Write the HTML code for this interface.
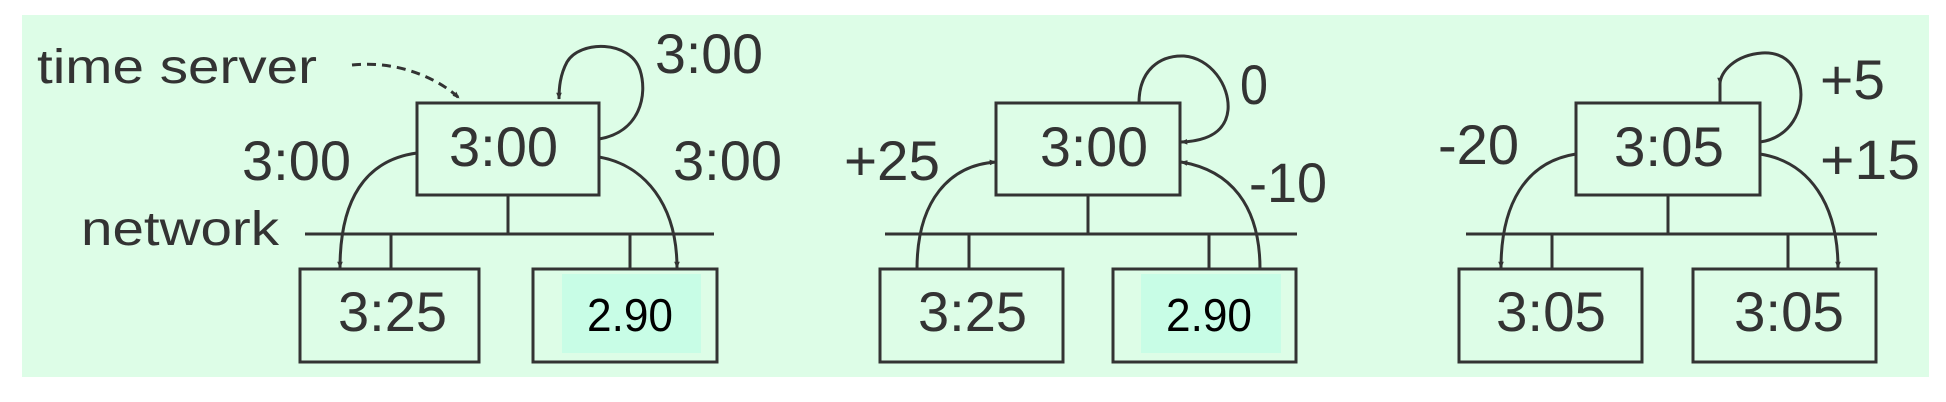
<!DOCTYPE html>
<html><head><meta charset="utf-8"><style>html,body{margin:0;padding:0;background:#fff}svg{display:block}text{font-family:"Liberation Sans",Arial,sans-serif;fill:#333}</style></head>
<body>
<svg width="1946" height="402" viewBox="0 0 1946 402">
<defs><marker id="ah" viewBox="0 0 10 10" refX="9" refY="5" markerWidth="7" markerHeight="7" orient="auto-start-reverse" markerUnits="userSpaceOnUse"><path d="M0,1 L10,5 L0,9 z" fill="#333"/></marker></defs>
<rect x="22" y="15" width="1907" height="362" fill="#ddfde7"/>
<g stroke="#333" stroke-width="3" fill="none">
<!-- panel 1 -->
<g>
<path d="M352,65 C400,60 440,80 459,98" stroke-dasharray="9,6" marker-end="url(#ah)"/>
<rect x="417" y="103" width="182" height="92"/>
<line x1="305" y1="234" x2="714" y2="234"/>
<line x1="508" y1="195" x2="508" y2="234"/>
<line x1="391" y1="234" x2="391" y2="269"/>
<line x1="630" y1="234" x2="630" y2="269"/>
<rect x="300" y="269" width="179" height="93"/>
<rect x="533" y="269" width="184" height="93"/>
<path d="M417,153 C365,160 340,200 340,268" marker-end="url(#ah)"/>
<path d="M599,157 C645,165 677,205 677,268" marker-end="url(#ah)"/>
<path d="M599,139 C640,132 648,95 640,70 C630,40 580,40 567,62 C560,75 559,88 559,99" marker-end="url(#ah)"/>
</g>
<!-- panel 2 -->
<g>
<rect x="996" y="103" width="184" height="92"/>
<line x1="885" y1="234" x2="1297" y2="234"/>
<line x1="1088" y1="195" x2="1088" y2="234"/>
<line x1="969" y1="234" x2="969" y2="269"/>
<line x1="1209" y1="234" x2="1209" y2="269"/>
<rect x="880" y="269" width="183" height="93"/>
<rect x="1113" y="269" width="183" height="93"/>
<path d="M917,269 C917,200 950,165 996,162" marker-end="url(#ah)"/>
<path d="M1260,269 C1260,205 1230,170 1181,162" marker-end="url(#ah)"/>
<path d="M1139,103 C1139,70 1160,55 1184,56 C1210,58 1230,85 1228,110 C1226,130 1210,141 1181,142" marker-end="url(#ah)"/>
</g>
<!-- panel 3 -->
<g>
<rect x="1576" y="103" width="184" height="92"/>
<line x1="1466" y1="234" x2="1877" y2="234"/>
<line x1="1668" y1="195" x2="1668" y2="234"/>
<line x1="1552" y1="234" x2="1552" y2="269"/>
<line x1="1788" y1="234" x2="1788" y2="269"/>
<rect x="1459" y="269" width="183" height="93"/>
<rect x="1693" y="269" width="183" height="93"/>
<path d="M1576,154 C1525,162 1501,205 1501,268" marker-end="url(#ah)"/>
<path d="M1760,154 C1810,162 1838,205 1838,268" marker-end="url(#ah)"/>
<path d="M1760,142 C1790,138 1805,110 1800,85 C1795,60 1780,52 1762,53 C1735,55 1720,72 1720,84" marker-end="url(#ah)"/>
<line x1="1720" y1="84" x2="1720" y2="103"/>
</g>
</g>
<rect x="562" y="274" width="139" height="79" fill="#c8fde6"/>
<rect x="1141" y="274" width="140" height="79" fill="#c8fde6"/>
<g font-size="56">
<text x="37" y="83" font-size="48" textLength="280" lengthAdjust="spacingAndGlyphs">time server</text>
<text x="81" y="245" font-size="48" textLength="198" lengthAdjust="spacingAndGlyphs">network</text>
<text x="449" y="166" textLength="109" lengthAdjust="spacingAndGlyphs">3:00</text>
<text x="655" y="73" textLength="108" lengthAdjust="spacingAndGlyphs">3:00</text>
<text x="242" y="180" textLength="109" lengthAdjust="spacingAndGlyphs">3:00</text>
<text x="673" y="180" textLength="109" lengthAdjust="spacingAndGlyphs">3:00</text>
<text x="338" y="331" textLength="109" lengthAdjust="spacingAndGlyphs">3:25</text>
<text x="587" y="331" font-size="46" textLength="86" lengthAdjust="spacingAndGlyphs" style="fill:#000">2.90</text>
<text x="1040" y="166" textLength="108" lengthAdjust="spacingAndGlyphs">3:00</text>
<text x="1240" y="104" textLength="28" lengthAdjust="spacingAndGlyphs">0</text>
<text x="844" y="180" textLength="96" lengthAdjust="spacingAndGlyphs">+25</text>
<text x="1249" y="202" textLength="78" lengthAdjust="spacingAndGlyphs">-10</text>
<text x="918" y="331" textLength="109" lengthAdjust="spacingAndGlyphs">3:25</text>
<text x="1166" y="331" font-size="46" textLength="86" lengthAdjust="spacingAndGlyphs" style="fill:#000">2.90</text>
<text x="1614" y="166" textLength="110" lengthAdjust="spacingAndGlyphs">3:05</text>
<text x="1820" y="99" textLength="65" lengthAdjust="spacingAndGlyphs">+5</text>
<text x="1438" y="164" textLength="81" lengthAdjust="spacingAndGlyphs">-20</text>
<text x="1820" y="179" textLength="100" lengthAdjust="spacingAndGlyphs">+15</text>
<text x="1496" y="331" textLength="110" lengthAdjust="spacingAndGlyphs">3:05</text>
<text x="1734" y="331" textLength="110" lengthAdjust="spacingAndGlyphs">3:05</text>
</g>
</svg>
</body></html>
